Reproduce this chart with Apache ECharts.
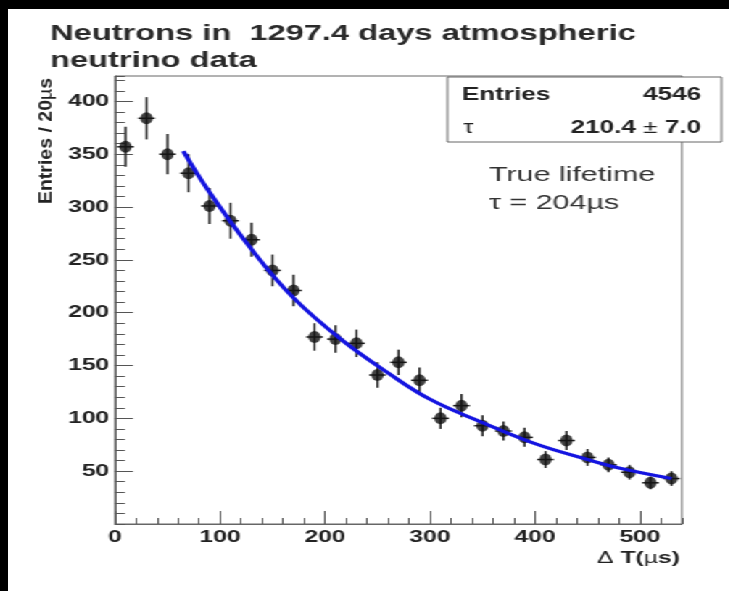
<!DOCTYPE html>
<html>
<head>
<meta charset="utf-8">
<script src="https://cdn.jsdelivr.net/npm/echarts@6/dist/echarts.min.js"></script>
<style>
  html, body { margin: 0; padding: 0; background: #000; width: 729px; height: 591px; overflow: hidden; }
  /* the plot is laid out in a narrow box and widened horizontally */
  #chart { position: absolute; left: 8px; top: 9px; width: 498px; height: 582px; background: #fff;
           transform: scaleX(1.45); transform-origin: 0 0; }
</style>
</head>
<body>
<div id="chart"></div>
<script>
// Histogram of neutron capture time differences (bin width 20 µs)
const binCenters = [10, 30, 50, 70, 90, 110, 130, 150, 170, 190, 210, 230, 250, 270,
                    290, 310, 330, 350, 370, 390, 410, 430, 450, 470, 490, 510, 530];
const counts = [357, 384, 350, 332, 301, 287, 269, 240, 221, 177, 175, 171, 141, 153,
                136, 100, 112, 93, 88, 82, 61, 79, 63, 56, 49, 39, 43];
const countErrors = [19, 20, 19, 18, 17, 17, 16, 15, 15, 13, 13, 13, 12, 12,
                     12, 10, 11, 10, 9, 9, 8, 9, 8, 7, 7, 6, 7];
const xErrHalf = 8;

// Exponential fit curve
const fitT = [65, 90, 130, 170, 215, 260, 300, 350, 400, 450, 480, 530];
const fitN = [353, 314, 260, 214, 175, 143, 118, 96, 76, 61, 53, 43];

// Axis settings
const xRange = [0, 540];
const yRange = [0, 424];
const xMajor = 100, xMinor = 20;
const yMajor = 50, yMinor = 10;

// Text blocks
const titleText = 'Neutrons in  1297.4 days atmospheric\nneutrino data';
const statsRows = [['Entries', '4546'], ['τ', '210.4 ± 7.0']];
const noteLines = ['True lifetime', 'τ = 204µs'];

const FONT = '"Liberation Sans", Arial, Helvetica, sans-serif';
const chart = echarts.init(document.getElementById('chart'));

const labelStyle = { fontSize: 17, fontWeight: 'bold', color: '#222', fontFamily: FONT };
const axisLineStyle = { color: '#666', width: 1 };
const tickLineStyle = { color: '#555', width: 1 };

chart.setOption({
  animation: false,
  textStyle: { fontFamily: FONT },
  title: {
    text: titleText,
    left: 24, top: 6,
    textStyle: { fontSize: 22.5, fontWeight: 'bold', color: '#2a2a2a', lineHeight: 27, fontFamily: FONT }
  },
  grid: {
    left: 73.8, right: 33.2, top: 67, bottom: 67,
    show: true, borderColor: '#666', borderWidth: 1, backgroundColor: 'transparent',
    outerBoundsMode: 'none'
  },
  xAxis: [
    {
      type: 'value', min: xRange[0], max: xRange[1], interval: xMajor, position: 'bottom',
      axisLine: { show: true, onZero: false, lineStyle: axisLineStyle },
      axisTick: { show: true, inside: true, length: 13, lineStyle: tickLineStyle },
      axisLabel: Object.assign({ show: true, showMaxLabel: false, margin: 5 }, labelStyle),
      splitLine: { show: false }
    },
    {
      type: 'value', min: xRange[0], max: xRange[1], interval: xMinor, position: 'bottom',
      axisLine: { show: false, onZero: false },
      axisTick: { show: true, inside: true, length: 6, lineStyle: tickLineStyle },
      axisLabel: { show: false },
      splitLine: { show: false }
    }
  ],
  yAxis: [
    {
      type: 'value', min: yRange[0], max: yRange[1], interval: yMajor, position: 'left',
      axisLine: { show: true, onZero: false, lineStyle: axisLineStyle },
      axisTick: { show: true, inside: true, length: 12.4, lineStyle: tickLineStyle },
      axisLabel: Object.assign({ show: true, showMinLabel: false, showMaxLabel: false, margin: 4 }, labelStyle),
      splitLine: { show: false }
    },
    {
      type: 'value', min: yRange[0], max: yRange[1], interval: yMinor, position: 'left',
      axisLine: { show: false, onZero: false },
      axisTick: { show: true, inside: true, length: 6.9, lineStyle: tickLineStyle },
      axisLabel: { show: false },
      splitLine: { show: false }
    }
  ],
  series: [
    {
      // error bars
      type: 'custom',
      xAxisIndex: 0, yAxisIndex: 0,
      z: 2,
      encode: { x: 0, y: 1 },
      data: binCenters.map((t, i) => [t, counts[i], countErrors[i]]),
      renderItem: (params, api) => {
        const x = api.value(0), y = api.value(1), e = api.value(2);
        const c = api.coord([x, y]);
        const hi = api.coord([x, y + e]);
        const lo = api.coord([x, y - e]);
        const l = api.coord([x - xErrHalf, y]);
        const r = api.coord([x + xErrHalf, y]);
        const st = { stroke: '#222', lineWidth: 1.5 };
        return {
          type: 'group',
          children: [
            { type: 'line', shape: { x1: c[0], y1: hi[1], x2: c[0], y2: lo[1] }, style: st },
            { type: 'line', shape: { x1: l[0], y1: c[1], x2: r[0], y2: c[1] }, style: st }
          ]
        };
      }
    },
    {
      type: 'scatter',
      xAxisIndex: 0, yAxisIndex: 0,
      z: 3,
      symbol: 'circle',
      symbolSize: [8.5, 12],
      itemStyle: { color: '#111' },
      data: binCenters.map((t, i) => [t, counts[i]])
    },
    {
      type: 'line',
      xAxisIndex: 0, yAxisIndex: 0,
      z: 4,
      smooth: 0.4,
      showSymbol: false,
      lineStyle: { color: '#1414e0', width: 3.2 },
      data: fitT.map((t, i) => [t, fitN[i]])
    }
  ],
  graphic: [
    {
      type: 'rect', z: 10,
      shape: { x: 303, y: 68, width: 189, height: 65 },
      style: { fill: '#fff', stroke: '#666', lineWidth: 1 }
    },
    {
      type: 'text', z: 11, x: 313, y: 86,
      style: { text: statsRows[0][0], fontSize: 18, fontWeight: 'bold', fontFamily: FONT,
               fill: '#222', align: 'left', verticalAlign: 'middle' }
    },
    {
      type: 'text', z: 11, x: 478, y: 86,
      style: { text: statsRows[0][1], fontSize: 18, fontWeight: 'bold', fontFamily: FONT,
               fill: '#222', align: 'right', verticalAlign: 'middle' }
    },
    {
      type: 'text', z: 11, x: 314, y: 119,
      style: { text: statsRows[1][0], fontSize: 18, fontFamily: FONT,
               fill: '#222', align: 'left', verticalAlign: 'middle' }
    },
    {
      type: 'text', z: 11, x: 478, y: 119,
      style: {
        text: statsRows[1][1].split(' ± ').map(s => '{b|' + s + '}').join(' {n|±} '),
        fill: '#222', align: 'right', verticalAlign: 'middle', fontSize: 18, fontFamily: FONT,
        rich: {
          b: { fontSize: 18, fontWeight: 'bold', fontFamily: FONT, fill: '#222' },
          n: { fontSize: 18, fontWeight: 'normal', fontFamily: FONT, fill: '#222' }
        }
      }
    },
    {
      type: 'text', z: 11, x: 331.7, y: 166.3,
      style: { text: noteLines[0], fontSize: 21, fontFamily: FONT, fill: '#333',
               align: 'left', verticalAlign: 'middle' }
    },
    {
      type: 'text', z: 11, x: 331.7, y: 194.7,
      style: { text: noteLines[1], fontSize: 21, fontFamily: FONT, fill: '#333',
               align: 'left', verticalAlign: 'middle' }
    },
    {
      // y axis title, reading upwards
      type: 'text', z: 11, x: 26.9, y: 132, rotation: Math.PI / 2, scaleX: 1.5,
      style: {
        text: 'Entries / 20{m|µ}s', fontSize: 13, fontWeight: 'bold', fontFamily: FONT, fill: '#222',
        align: 'center', verticalAlign: 'middle',
        rich: { m: { fontSize: 13, fontWeight: 'normal', fontFamily: FONT, fill: '#222' } }
      }
    },
    {
      // x axis title
      type: 'text', z: 11, x: 463.4, y: 549,
      style: {
        text: '{g|Δ} T({g|µ}s)', fontSize: 17, fontWeight: 'bold', fontFamily: FONT, fill: '#222',
        align: 'right', verticalAlign: 'middle',
        rich: { g: { fontSize: 17, fontWeight: 'normal', fontFamily: FONT, fill: '#222' } }
      }
    }
  ]
});
</script>
</body>
</html>
